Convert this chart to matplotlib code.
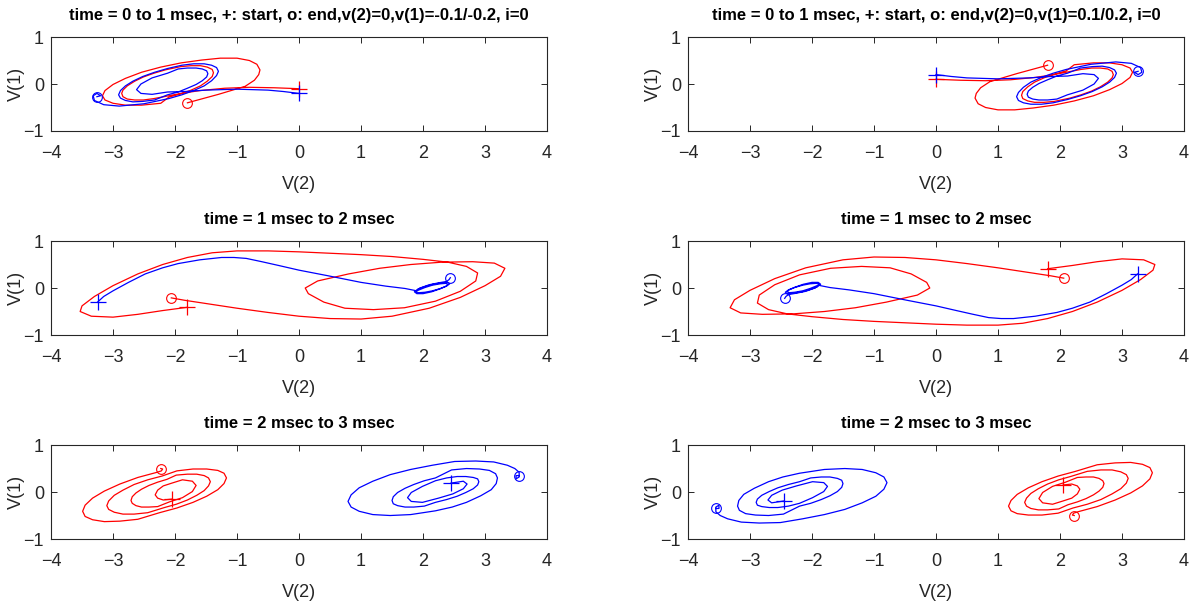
import numpy as np
import matplotlib.pyplot as plt

OUT_FILE = "out.png"

plt.rcParams['font.family'] = ['Liberation Sans', 'DejaVu Sans']

titles_left = ["time = 0 to 1 msec, +: start, o: end,v(2)=0,v(1)=-0.1/-0.2, i=0",
               "time = 1 msec to 2 msec",
               "time = 2 msec to 3 msec"]
titles_right = ["time = 0 to 1 msec, +: start, o: end,v(2)=0,v(1)=0.1/0.2, i=0",
                "time = 1 msec to 2 msec",
                "time = 2 msec to 3 msec"]

x_ticks = [-4, -3, -2, -1, 0, 1, 2, 3, 4]
y_ticks = [-1, 0, 1]

# trajectories as (V(2), V(1)) points
# first point = start (+), last point = end (o)

# ---- left column ----
p1l_red = [(0.0, -0.10), (-0.4, -0.08), (-0.8, -0.07), (-1.2, -0.09), (-1.6, -0.14), (-1.9, -0.20), (-2.16, -0.265),
           (-2.34, -0.31), (-2.51, -0.34), (-2.65, -0.34), (-2.77, -0.32), (-2.84, -0.27), (-2.86, -0.20),
           (-2.84, -0.13), (-2.77, -0.04), (-2.65, 0.06), (-2.51, 0.15), (-2.34, 0.23), (-2.16, 0.30),
           (-1.91, 0.37), (-1.74, 0.39), (-1.59, 0.39), (-1.48, 0.36), (-1.40, 0.31), (-1.38, 0.24),
           (-1.40, 0.16), (-1.48, 0.06), (-1.59, -0.04), (-1.74, -0.13), (-1.91, -0.21), (-2.10, -0.28),
           (-2.23, -0.41), (-2.54, -0.45), (-2.80, -0.45), (-3.00, -0.41), (-3.13, -0.34), (-3.17, -0.25),
           (-3.13, -0.14), (-3.00, -0.01), (-2.80, 0.12), (-2.54, 0.25), (-2.23, 0.36), (-1.90, 0.45),
           (-1.57, 0.51), (-1.27, 0.55), (-1.00, 0.55), (-0.80, 0.50), (-0.68, 0.42), (-0.63, 0.30),
           (-0.65, 0.20), (-0.72, 0.08), (-0.87, -0.05), (-1.30, -0.22), (-1.80, -0.40)]
p1l_blue = [(0.0, -0.20), (-0.25, -0.16), (-0.5, -0.13), (-1.0, -0.11), (-1.5, -0.13), (-1.85, -0.16), (-2.12, -0.17),
            (-2.37, -0.22), (-2.55, -0.20), (-2.62, -0.12), (-2.55, 0.0), (-2.37, 0.13), (-2.12, 0.23),
            (-1.95, 0.32), (-1.80, 0.34), (-1.66, 0.34), (-1.56, 0.32), (-1.49, 0.28), (-1.47, 0.22),
            (-1.49, 0.15), (-1.56, 0.07), (-1.66, -0.01), (-1.80, -0.09), (-1.95, -0.17), (-2.12, -0.23),
            (-2.33, -0.34), (-2.52, -0.37), (-2.68, -0.38), (-2.80, -0.35), (-2.88, -0.30), (-2.91, -0.23),
            (-2.88, -0.14), (-2.80, -0.04), (-2.68, 0.06), (-2.52, 0.16), (-2.33, 0.25), (-2.12, 0.33),
            (-1.89, 0.40), (-1.70, 0.43), (-1.53, 0.43), (-1.41, 0.40), (-1.33, 0.35), (-1.30, 0.27),
            (-1.33, 0.18), (-1.41, 0.07), (-1.53, -0.04), (-1.70, -0.14), (-1.89, -0.23), (-2.10, -0.31),
            (-2.50, -0.42), (-2.90, -0.47), (-3.15, -0.44), (-3.30, -0.35), (-3.32, -0.25), (-3.26, -0.20),
            (-3.20, -0.25), (-3.26, -0.27)]

p2l_red = [(-1.8, -0.41), (-2.2, -0.48), (-2.6, -0.56), (-3.0, -0.62), (-3.35, -0.60), (-3.53, -0.50), (-3.50, -0.38),
           (-3.3, -0.18), (-3.0, 0.05), (-2.6, 0.30), (-2.2, 0.50), (-1.8, 0.65), (-1.4, 0.75), (-1.0, 0.79),
           (-0.5, 0.79), (0.0, 0.77), (0.5, 0.74), (1.0, 0.71), (1.5, 0.67), (2.0, 0.61), (2.4, 0.55), (2.7, 0.46),
           (2.88, 0.32), (2.85, 0.15), (2.6, -0.07), (2.2, -0.28), (1.7, -0.42), (1.2, -0.46), (0.74, -0.43),
           (0.4, -0.30), (0.15, -0.12), (0.1, 0.0), (0.3, 0.15), (0.8, 0.30), (1.3, 0.42), (1.8, 0.50), (2.3, 0.55),
           (2.8, 0.56), (3.15, 0.53), (3.32, 0.42), (3.25, 0.25), (3.0, 0.05), (2.6, -0.20), (2.1, -0.43),
           (1.5, -0.60), (1.0, -0.66), (0.5, -0.65), (0.0, -0.60), (-0.5, -0.52), (-1.0, -0.43), (-1.5, -0.33),
           (-1.85, -0.26), (-2.06, -0.21)]
p2l_blue = [(-3.25, -0.30), (-3.15, -0.18), (-3.0, -0.06), (-2.75, 0.12), (-2.48, 0.30), (-2.2, 0.43), (-1.95, 0.52),
            (-1.6, 0.60), (-1.25, 0.65), (-1.05, 0.65), (-0.85, 0.63), (-0.6, 0.56), (-0.33, 0.48), (0.0, 0.38),
            (0.47, 0.26), (1.0, 0.12), (1.4, 0.04), (1.71, -0.01), (1.9, -0.06), (2.03, 0.01), (2.15, 0.06),
            (2.28, 0.09), (2.37, 0.10), (2.4, 0.08), (2.37, 0.04), (2.28, -0.01), (2.15, -0.06), (2.03, -0.09),
            (1.93, -0.10), (1.88, -0.08), (1.92, -0.02), (2.03, 0.03), (2.16, 0.08), (2.3, 0.11), (2.4, 0.12),
            (2.43, 0.09), (2.38, 0.04), (2.27, -0.02), (2.14, -0.08), (2.0, -0.12), (1.9, -0.12), (1.86, -0.08),
            (1.95, 0.0), (2.1, 0.07), (2.25, 0.11), (2.38, 0.14), (2.42, 0.18), (2.44, 0.22)]

p3l_red = [(-2.05, -0.15), (-2.19, -0.17), (-2.28, -0.13), (-2.32, -0.06), (-2.28, 0.04), (-2.19, 0.13), (-2.05, 0.19),
           (-1.88, 0.26), (-1.72, 0.23), (-1.66, 0.14), (-1.72, 0.01), (-1.88, -0.12), (-2.09, -0.21),
           (-2.28, -0.31), (-2.42, -0.32), (-2.54, -0.32), (-2.63, -0.29), (-2.69, -0.24), (-2.71, -0.18),
           (-2.69, -0.10), (-2.63, -0.02), (-2.54, 0.06), (-2.42, 0.14), (-2.28, 0.21), (-2.13, 0.27),
           (-1.98, 0.36), (-1.80, 0.38), (-1.65, 0.38), (-1.53, 0.35), (-1.46, 0.30), (-1.43, 0.22),
           (-1.46, 0.13), (-1.53, 0.03), (-1.65, -0.07), (-1.80, -0.17), (-1.98, -0.26), (-2.17, -0.33),
           (-2.44, -0.44), (-2.66, -0.47), (-2.84, -0.47), (-2.98, -0.43), (-3.07, -0.37), (-3.10, -0.29),
           (-3.07, -0.19), (-2.98, -0.07), (-2.84, 0.04), (-2.66, 0.16), (-2.44, 0.26), (-2.21, 0.34),
           (-1.97, 0.45), (-1.71, 0.49), (-1.49, 0.49), (-1.31, 0.46), (-1.21, 0.40), (-1.17, 0.30),
           (-1.21, 0.18), (-1.31, 0.05), (-1.49, -0.09), (-1.71, -0.22), (-1.97, -0.34), (-2.25, -0.44),
           (-2.60, -0.58), (-2.89, -0.62), (-3.14, -0.63), (-3.33, -0.59), (-3.45, -0.52), (-3.49, -0.41),
           (-3.45, -0.28), (-3.33, -0.13), (-3.14, 0.02), (-2.89, 0.17), (-2.60, 0.31), (-2.29, 0.42),
           (-2.22, 0.45), (-2.20, 0.49), (-2.23, 0.50)]
p3l_blue = [(2.45, 0.19), (2.65, 0.23), (2.71, 0.17), (2.65, 0.07), (2.48, -0.04), (2.25, -0.13),
            (1.99, -0.22), (1.81, -0.20), (1.75, -0.12), (1.81, -0.01), (1.99, 0.12), (2.20, 0.24),
            (2.38, 0.30), (2.55, 0.33), (2.69, 0.33), (2.81, 0.31), (2.88, 0.28), (2.90, 0.22),
            (2.88, 0.15), (2.81, 0.07), (2.69, -0.01), (2.55, -0.09), (2.38, -0.16), (2.20, -0.22),
            (2.02, -0.30), (1.85, -0.32), (1.71, -0.32), (1.59, -0.29), (1.52, -0.25), (1.50, -0.18),
            (1.52, -0.10), (1.59, -0.01), (1.71, 0.08), (1.85, 0.16), (2.02, 0.24), (2.20, 0.30),
            (2.46, 0.47), (2.70, 0.50), (2.91, 0.49), (3.07, 0.46), (3.17, 0.39), (3.20, 0.30),
            (3.18, 0.18), (3.10, 0.05), (2.93, -0.08), (2.70, -0.22), (2.47, -0.32), (2.20, -0.40),
            (1.80, -0.48), (1.47, -0.50), (1.19, -0.48), (0.97, -0.41), (0.84, -0.32), (0.79, -0.20),
            (0.84, -0.06), (0.97, 0.09), (1.19, 0.23), (1.47, 0.37), (1.80, 0.48), (2.15, 0.57),
            (2.51, 0.65), (2.85, 0.66), (3.14, 0.64), (3.36, 0.57), (3.48, 0.50), (3.55, 0.42),
            (3.55, 0.32), (3.50, 0.28), (3.50, 0.35), (3.55, 0.35)]

# ---- right column ----
p1r_red = [(0.0, 0.10), (0.4, 0.08), (0.8, 0.07), (1.2, 0.09), (1.6, 0.14), (1.9, 0.20), (2.16, 0.265),
           (2.34, 0.31), (2.51, 0.34), (2.65, 0.34), (2.77, 0.32), (2.84, 0.27), (2.86, 0.20),
           (2.84, 0.13), (2.77, 0.04), (2.65, -0.06), (2.51, -0.15), (2.34, -0.23), (2.16, -0.30),
           (1.91, -0.37), (1.74, -0.39), (1.59, -0.39), (1.48, -0.36), (1.40, -0.31), (1.38, -0.24),
           (1.40, -0.16), (1.48, -0.06), (1.59, 0.04), (1.74, 0.13), (1.91, 0.21), (2.10, 0.28),
           (2.23, 0.41), (2.54, 0.45), (2.80, 0.45), (3.00, 0.41), (3.13, 0.34), (3.17, 0.25),
           (3.13, 0.14), (3.00, 0.01), (2.80, -0.12), (2.54, -0.25), (2.23, -0.36), (1.90, -0.45),
           (1.57, -0.51), (1.27, -0.55), (1.00, -0.55), (0.80, -0.50), (0.68, -0.42), (0.63, -0.30),
           (0.65, -0.20), (0.72, -0.08), (0.87, 0.05), (1.30, 0.22), (1.80, 0.40)]
p1r_blue = [(0.0, 0.20), (0.25, 0.16), (0.5, 0.13), (1.0, 0.11), (1.5, 0.13), (1.85, 0.16), (2.12, 0.17),
            (2.37, 0.22), (2.55, 0.20), (2.62, 0.12), (2.55, 0.0), (2.37, -0.13), (2.12, -0.23),
            (1.95, -0.32), (1.80, -0.34), (1.66, -0.34), (1.56, -0.32), (1.49, -0.28), (1.47, -0.22),
            (1.49, -0.15), (1.56, -0.07), (1.66, 0.01), (1.80, 0.09), (1.95, 0.17), (2.12, 0.23),
            (2.33, 0.34), (2.52, 0.37), (2.68, 0.38), (2.80, 0.35), (2.88, 0.30), (2.91, 0.23),
            (2.88, 0.14), (2.80, 0.04), (2.68, -0.06), (2.52, -0.16), (2.33, -0.25), (2.12, -0.33),
            (1.89, -0.40), (1.70, -0.43), (1.53, -0.43), (1.41, -0.40), (1.33, -0.35), (1.30, -0.27),
            (1.33, -0.18), (1.41, -0.07), (1.53, 0.04), (1.70, 0.14), (1.89, 0.23), (2.10, 0.31),
            (2.50, 0.42), (2.90, 0.47), (3.15, 0.44), (3.30, 0.35), (3.32, 0.25), (3.26, 0.20),
            (3.20, 0.25), (3.26, 0.27)]

p2r_red = [(1.8, 0.41), (2.2, 0.48), (2.6, 0.56), (3.0, 0.62), (3.35, 0.60), (3.53, 0.50), (3.50, 0.38),
           (3.3, 0.18), (3.0, -0.05), (2.6, -0.30), (2.2, -0.50), (1.8, -0.65), (1.4, -0.75), (1.0, -0.79),
           (0.5, -0.79), (0.0, -0.77), (-0.5, -0.74), (-1.0, -0.71), (-1.5, -0.67), (-2.0, -0.61), (-2.4, -0.55),
           (-2.7, -0.46), (-2.88, -0.32), (-2.85, -0.15), (-2.6, 0.07), (-2.2, 0.28), (-1.7, 0.42), (-1.2, 0.46),
           (-0.74, 0.43), (-0.4, 0.30), (-0.15, 0.12), (-0.1, 0.0), (-0.3, -0.15), (-0.8, -0.30), (-1.3, -0.42),
           (-1.8, -0.50), (-2.3, -0.55), (-2.8, -0.56), (-3.15, -0.53), (-3.32, -0.42), (-3.25, -0.25),
           (-3.0, -0.05), (-2.6, 0.20), (-2.1, 0.43), (-1.5, 0.60), (-1.0, 0.66), (-0.5, 0.65), (0.0, 0.60),
           (0.5, 0.52), (1.0, 0.43), (1.5, 0.33), (1.85, 0.26), (2.06, 0.21)]
p2r_blue = [(3.25, 0.30), (3.15, 0.18), (3.0, 0.06), (2.75, -0.12), (2.48, -0.30), (2.2, -0.43), (1.95, -0.52),
            (1.6, -0.60), (1.25, -0.65), (1.05, -0.65), (0.85, -0.63), (0.6, -0.56), (0.33, -0.48), (0.0, -0.38),
            (-0.47, -0.26), (-1.0, -0.12), (-1.4, -0.04), (-1.71, 0.01), (-1.9, 0.06), (-2.03, -0.01),
            (-2.15, -0.06), (-2.28, -0.09), (-2.37, -0.10), (-2.4, -0.08), (-2.37, -0.04), (-2.28, 0.01),
            (-2.15, 0.06), (-2.03, 0.09), (-1.93, 0.10), (-1.88, 0.08), (-1.92, 0.02), (-2.03, -0.03),
            (-2.16, -0.08), (-2.3, -0.11), (-2.4, -0.12), (-2.43, -0.09), (-2.38, -0.04), (-2.27, 0.02),
            (-2.14, 0.08), (-2.0, 0.12), (-1.9, 0.12), (-1.86, 0.08), (-1.95, 0.0), (-2.1, -0.07),
            (-2.25, -0.11), (-2.38, -0.14), (-2.42, -0.18), (-2.44, -0.22)]

p3r_red = [(2.05, 0.15), (2.19, 0.17), (2.28, 0.13), (2.32, 0.06), (2.28, -0.04), (2.19, -0.13), (2.05, -0.19),
           (1.88, -0.26), (1.72, -0.23), (1.66, -0.14), (1.72, -0.01), (1.88, 0.12), (2.09, 0.21),
           (2.28, 0.31), (2.42, 0.32), (2.54, 0.32), (2.63, 0.29), (2.69, 0.24), (2.71, 0.18),
           (2.69, 0.10), (2.63, 0.02), (2.54, -0.06), (2.42, -0.14), (2.28, -0.21), (2.13, -0.27),
           (1.98, -0.36), (1.80, -0.38), (1.65, -0.38), (1.53, -0.35), (1.46, -0.30), (1.43, -0.22),
           (1.46, -0.13), (1.53, -0.03), (1.65, 0.07), (1.80, 0.17), (1.98, 0.26), (2.17, 0.33),
           (2.44, 0.44), (2.66, 0.47), (2.84, 0.47), (2.98, 0.43), (3.07, 0.37), (3.10, 0.29),
           (3.07, 0.19), (2.98, 0.07), (2.84, -0.04), (2.66, -0.16), (2.44, -0.26), (2.21, -0.34),
           (1.97, -0.45), (1.71, -0.49), (1.49, -0.49), (1.31, -0.46), (1.21, -0.40), (1.17, -0.30),
           (1.21, -0.18), (1.31, -0.05), (1.49, 0.09), (1.71, 0.22), (1.97, 0.34), (2.25, 0.44),
           (2.60, 0.58), (2.89, 0.62), (3.14, 0.63), (3.33, 0.59), (3.45, 0.52), (3.49, 0.41),
           (3.45, 0.28), (3.33, 0.13), (3.14, -0.02), (2.89, -0.17), (2.60, -0.31), (2.29, -0.42),
           (2.22, -0.45), (2.20, -0.49), (2.23, -0.50)]
p3r_blue = [(-2.45, -0.19), (-2.65, -0.23), (-2.71, -0.17), (-2.65, -0.07), (-2.48, 0.04), (-2.25, 0.13),
            (-1.99, 0.22), (-1.81, 0.20), (-1.75, 0.12), (-1.81, 0.01), (-1.99, -0.12), (-2.20, -0.24),
            (-2.38, -0.30), (-2.55, -0.33), (-2.69, -0.33), (-2.81, -0.31), (-2.88, -0.28), (-2.90, -0.22),
            (-2.88, -0.15), (-2.81, -0.07), (-2.69, 0.01), (-2.55, 0.09), (-2.38, 0.16), (-2.20, 0.22),
            (-2.02, 0.30), (-1.85, 0.32), (-1.71, 0.32), (-1.59, 0.29), (-1.52, 0.25), (-1.50, 0.18),
            (-1.52, 0.10), (-1.59, 0.01), (-1.71, -0.08), (-1.85, -0.16), (-2.02, -0.24), (-2.20, -0.30),
            (-2.46, -0.47), (-2.70, -0.50), (-2.91, -0.49), (-3.07, -0.46), (-3.17, -0.39), (-3.20, -0.30),
            (-3.18, -0.18), (-3.10, -0.05), (-2.93, 0.08), (-2.70, 0.22), (-2.47, 0.32), (-2.20, 0.40),
            (-1.80, 0.48), (-1.47, 0.50), (-1.19, 0.48), (-0.97, 0.41), (-0.84, 0.32), (-0.79, 0.20),
            (-0.84, 0.06), (-0.97, -0.09), (-1.19, -0.23), (-1.47, -0.37), (-1.80, -0.48), (-2.15, -0.57),
            (-2.51, -0.65), (-2.85, -0.66), (-3.14, -0.64), (-3.36, -0.57), (-3.48, -0.50), (-3.55, -0.42),
            (-3.55, -0.32), (-3.50, -0.28), (-3.50, -0.35), (-3.55, -0.35)]

panels_left = [(p1l_red, p1l_blue), (p2l_red, p2l_blue), (p3l_red, p3l_blue)]
panels_right = [(p1r_red, p1r_blue), (p2r_red, p2r_blue), (p3r_red, p3r_blue)]

# axes boxes in figure fractions
col_x = [0.0429, 0.5786]
col_w = 0.4172
row_y = [0.7863, 0.4535, 0.1207]
row_h = 0.1533

TEXT_COLOR = '#262626'


def draw_panel(ax, red, blue, title):
    for pts, col in ((red, 'red'), (blue, 'blue')):
        a = np.array(pts)
        ax.plot(a[:, 0], a[:, 1], color=col, lw=0.9)
        ax.plot(a[0, 0], a[0, 1], marker='+', color=col, ms=11, mew=0.9, ls='none')
        ax.plot(a[-1, 0], a[-1, 1], marker='o', color=col, ms=7, mew=0.8, mfc='none', ls='none')
    ax.set_xlim(-4, 4)
    ax.set_ylim(-1, 1)
    ax.set_xticks(x_ticks)
    ax.set_yticks(y_ticks)
    ax.tick_params(direction='in', top=True, right=True, length=4, width=0.7,
                   labelsize=13, colors=TEXT_COLOR, pad=10)
    ax.tick_params(axis='y', pad=5)
    for s in ax.spines.values():
        s.set_color(TEXT_COLOR)
        s.set_linewidth(0.8)
    ax.set_xlabel('V(2)', fontsize=13, color=TEXT_COLOR, labelpad=10)
    ax.set_ylabel('V(1)', fontsize=13, color=TEXT_COLOR, labelpad=-1)
    ax.set_title(title, fontsize=12, fontweight='bold', pad=12)


fig = plt.figure(figsize=(11.89, 6.13), dpi=100)
for c, (panels, titles) in enumerate(((panels_left, titles_left), (panels_right, titles_right))):
    for r in range(3):
        ax = fig.add_axes([col_x[c], row_y[r], col_w, row_h])
        red, blue = panels[r]
        draw_panel(ax, red, blue, titles[r])

fig.savefig(OUT_FILE, dpi=100)
plt.close(fig)
print(f"Plot saved to {OUT_FILE}")
